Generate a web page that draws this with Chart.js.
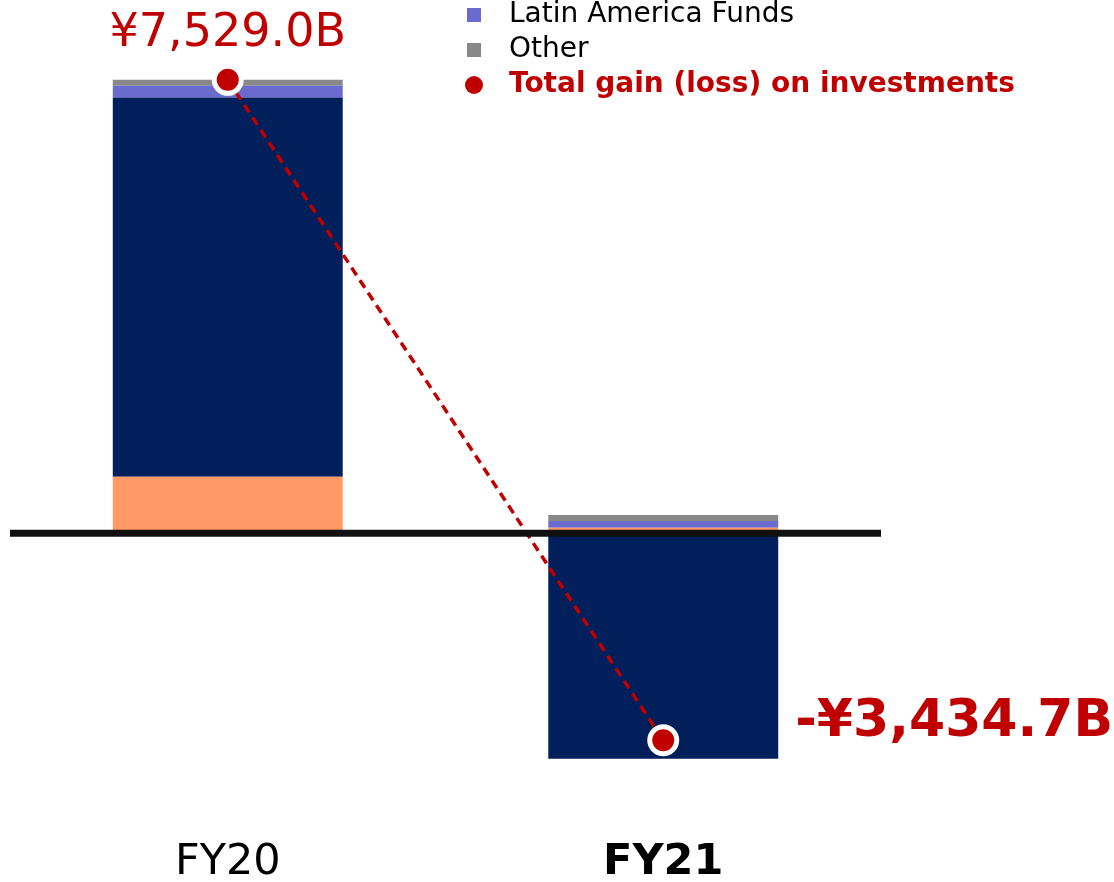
<!DOCTYPE html>
<html>
<head>
<meta charset="utf-8">
<title>Gain (loss) on investments</title>
<script src="https://cdn.jsdelivr.net/npm/chart.js@4.4.1/dist/chart.umd.min.js"></script>
<style>
  html, body { margin: 0; padding: 0; background: #ffffff; }
  #wrap { width: 1114px; height: 882px; position: relative; }
</style>
</head>
<body>
<div id="wrap"><canvas id="chart"></canvas></div>
<script>
// fiscal years
const years = ["FY20", "FY21"];

// segment values, ¥ billions
const svf1Values = [6296, -3740];
const svf2Values = [940, 95];
const latamValues = [194, 110];
const otherValues = [99, 100];
const totalValues = [7529.0, -3434.7];

const RED = "#c00000";
const FONT = "'DejaVu Sans', Verdana, sans-serif";

function fmtYen(v) {
    const s = Math.abs(v).toLocaleString("en-US", { minimumFractionDigits: 1, maximumFractionDigits: 1 });
    return (v < 0 ? "-" : "") + "¥" + s + "B";
}

/* =========================
   THICK ZERO LINE
========================= */
const zeroLine = {
    id: "zeroLine",
    afterDatasetsDraw(chart) {
        const { ctx, chartArea, scales } = chart;
        const y = scales.y.getPixelForValue(0);
        ctx.save();
        ctx.strokeStyle = "#111111";
        ctx.lineWidth = 7;
        ctx.beginPath();
        ctx.moveTo(chartArea.left, y);
        ctx.lineTo(chartArea.right, y);
        ctx.stroke();
        ctx.restore();
    }
};

/* =========================
   TOTAL LABELS + LEGEND
========================= */
const extras = {
    id: "extras",
    afterDraw(chart) {
        const ctx = chart.ctx;
        const meta = chart.getDatasetMeta(0);
        ctx.save();
        ctx.fillStyle = RED;

        // total labels
        const p0 = meta.data[0];
        ctx.font = "normal 46px " + FONT;
        ctx.textAlign = "center";
        ctx.textBaseline = "middle";
        ctx.fillText(fmtYen(totalValues[0]), p0.x, p0.y - 46);

        const p1 = meta.data[1];
        ctx.font = "bold 52px " + FONT;
        ctx.textAlign = "left";
        ctx.fillText(fmtYen(totalValues[1]), p1.x + 132, p1.y - 18);

        // legend (only the visible part)
        const items = [
            { ds: chart.data.datasets[3], kind: "box", color: "#000000", bold: false },
            { ds: chart.data.datasets[4], kind: "box", color: "#000000", bold: false },
            { ds: chart.data.datasets[0], kind: "dot", color: RED, bold: true }
        ];
        let y = 15;
        items.forEach(it => {
            if (it.kind === "box") {
                ctx.fillStyle = it.ds.backgroundColor;
                ctx.fillRect(467, y - 7, 14, 14);
            } else {
                ctx.fillStyle = RED;
                ctx.beginPath();
                ctx.arc(474, y, 9, 0, Math.PI * 2);
                ctx.fill();
            }
            ctx.fillStyle = it.color;
            ctx.font = (it.bold ? "bold " : "normal ") + "28px " + FONT;
            ctx.textAlign = "left";
            ctx.textBaseline = "middle";
            ctx.fillText(it.ds.label, 509, y);
            y += 35;
        });
        ctx.restore();
    }
};

new Chart(document.getElementById("chart"), {
    type: "bar",
    data: {
        labels: years,
        datasets: [
            {
                type: "line",
                label: "Total gain (loss) on investments",
                data: totalValues,
                stack: "total",
                order: 0,
                borderColor: RED,
                borderWidth: 3.5,
                borderDash: [9, 6],
                pointRadius: 13.5,
                pointBorderWidth: 5,
                pointBorderColor: "#ffffff",
                pointBackgroundColor: RED,
                fill: false
            },
            { label: "SVF2", data: svf2Values, backgroundColor: "#ff9966", stack: "bars", order: 1 },
            { label: "SVF1", data: svf1Values, backgroundColor: "#001f5b", stack: "bars", order: 1 },
            { label: "Latin America Funds", data: latamValues, backgroundColor: "#6b6bcf", stack: "bars", order: 1 },
            { label: "Other", data: otherValues, backgroundColor: "#888888", stack: "bars", order: 1 }
        ]
    },
    options: {
        responsive: true,
        maintainAspectRatio: false,
        animation: false,
        categoryPercentage: 1,
        barPercentage: 0.528,
        layout: {
            autoPadding: false,
            padding: { left: 10, right: 233, top: 40, bottom: -69 }
        },
        plugins: {
            legend: { display: false },
            tooltip: { enabled: false }
        },
        scales: {
            x: {
                stacked: true,
                grid: { display: false, drawTicks: false },
                border: { display: false },
                ticks: {
                    color: "#000000",
                    padding: 69,
                    font: ctx => ({
                        family: FONT,
                        size: 43,
                        lineHeight: 0.9,
                        weight: ctx.index === years.length - 1 ? "bold" : "normal"
                    })
                }
            },
            y: {
                display: false,
                stacked: true,
                min: -4000,
                max: 8190
            }
        }
    },
    plugins: [zeroLine, extras]
});
</script>
</body>
</html>
